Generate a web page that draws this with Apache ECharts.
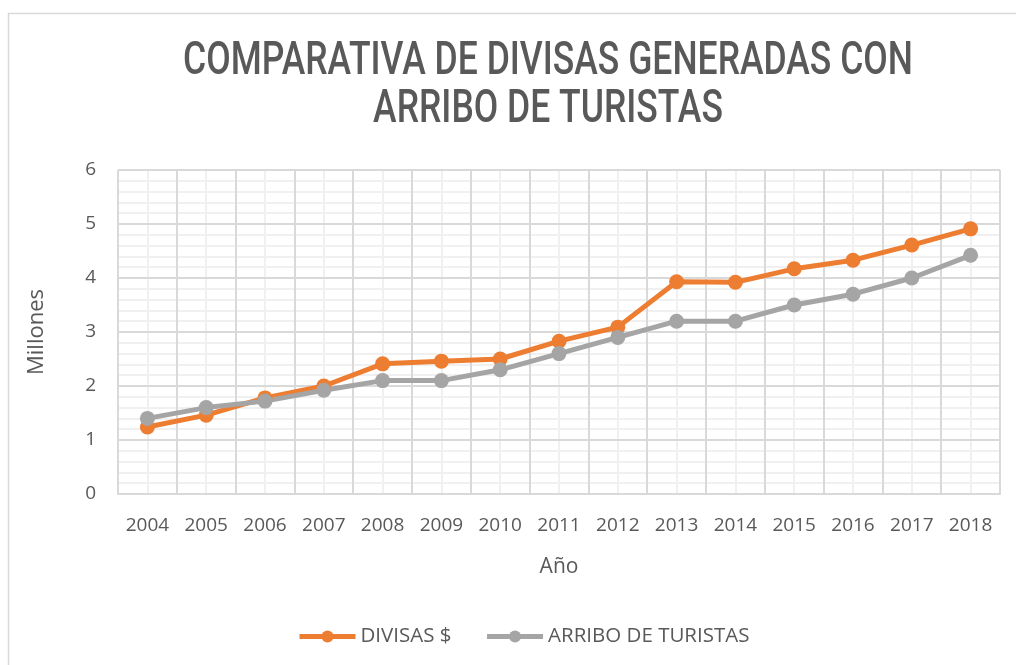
<!DOCTYPE html>
<html><head><meta charset="utf-8">
<script src="https://cdn.jsdelivr.net/npm/echarts@6/dist/echarts.min.js"></script>
<style>html,body{margin:0;padding:0;background:#fff}#c{width:1016px;height:665px}</style>
</head><body><div id="c"></div>
<script>
const years = ['2004','2005','2006','2007','2008','2009','2010','2011','2012','2013','2014','2015','2016','2017','2018'];
const divisas = [1.24,1.46,1.78,2.0,2.41,2.46,2.5,2.83,3.09,3.93,3.92,4.17,4.33,4.61,4.91];
const arribo = [1.4,1.6,1.72,1.92,2.1,2.1,2.3,2.6,2.9,3.2,3.2,3.5,3.7,4.0,4.42];
const titleLines = ['COMPARATIVA DE DIVISAS GENERADAS CON','ARRIBO DE TURISTAS'];
const txt = '#595959';
const titleFont = '500 46px Roboto';
const cv = document.createElement('canvas').getContext('2d');
cv.font = titleFont;
const sx = 730 / cv.measureText(titleLines[0]).width;
const chart = echarts.init(document.getElementById('c'), null, {renderer:'canvas'});
const lab = {fontFamily:'Open Sans', fontSize:19, color:txt};
chart.setOption({
  animation:false,
  graphic:[
    {type:'rect', shape:{x:8.5,y:13.5,width:1100,height:800}, style:{fill:null, stroke:'#d9d9d9', lineWidth:1.5}, silent:true},
    {type:'text', x:548, y:62, scaleX:sx, style:{text:titleLines[0], font:titleFont, fill:txt, textAlign:'center', textVerticalAlign:'middle'}},
    {type:'text', x:548, y:110, scaleX:sx, style:{text:titleLines[1], font:titleFont, fill:txt, textAlign:'center', textVerticalAlign:'middle'}}
  ],
  legend:{top:621, left:292, itemWidth:56, itemHeight:15, itemGap:33, textStyle:{fontFamily:'Open Sans', fontSize:20.5, color:txt},
    data:[{name:'DIVISAS $', lineStyle:{width:5}}, {name:'ARRIBO DE TURISTAS', lineStyle:{width:5}}]},
  grid:{left:118, right:16, top:170, bottom:171},
  xAxis:[
    {type:'value', position:'top', min:0, max:30, interval:1, z:-1, axisLine:{show:false}, axisTick:{show:false}, axisLabel:{show:false}, splitLine:{show:true, lineStyle:{color:'#f0f0f0', width:2}}},
    {type:'category', position:'bottom', data:years, boundaryGap:true, name:'Año', nameLocation:'middle', nameGap:63, nameTextStyle:{fontFamily:'Open Sans', fontSize:21, color:txt},
     axisLine:{show:true, lineStyle:{color:'#d9d9d9', width:2}}, axisTick:{show:false}, axisLabel:Object.assign({margin:22}, lab),
     splitLine:{show:true, lineStyle:{color:'#d9d9d9', width:2}}}
  ],
  yAxis:{type:'value', min:0, max:6, interval:1, name:'Millones', nameLocation:'middle', nameGap:70, nameRotate:90, nameTextStyle:{fontFamily:'Open Sans', fontSize:22, color:txt},
    axisLine:{show:false}, axisTick:{show:false}, axisLabel:Object.assign({margin:22}, lab),
    splitLine:{lineStyle:{color:'#d9d9d9', width:2}},
    minorTick:{show:false, splitNumber:5}, minorSplitLine:{show:true, lineStyle:{color:'#f0f0f0', width:2}}},
  series:[
    {name:'DIVISAS $', type:'line', xAxisIndex:1, data:divisas, symbol:'circle', symbolSize:15, itemStyle:{color:'#ED7D31'}, lineStyle:{color:'#ED7D31', width:5}},
    {name:'ARRIBO DE TURISTAS', type:'line', xAxisIndex:1, data:arribo, symbol:'circle', symbolSize:15, itemStyle:{color:'#A5A5A5'}, lineStyle:{color:'#A5A5A5', width:5}}
  ]
});
</script></body></html>
